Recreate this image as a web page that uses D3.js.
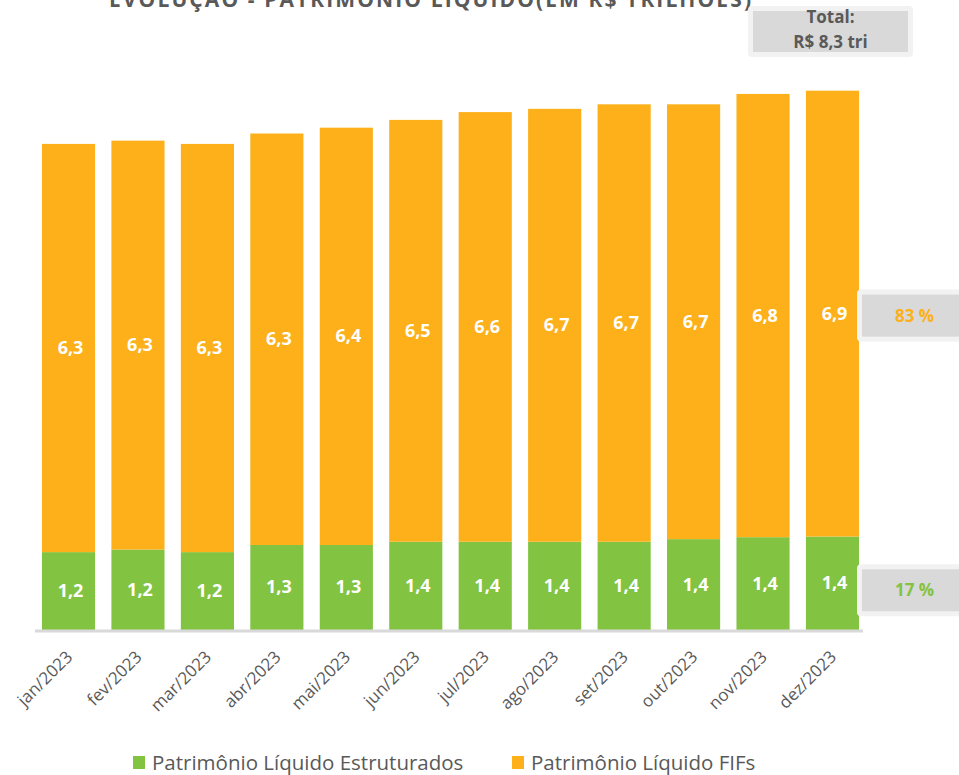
<!DOCTYPE html>
<html>
<head>
<meta charset="utf-8">
<script src="https://cdn.jsdelivr.net/npm/d3@7"></script>
<style>
  body { margin: 0; background: #fff; }
  svg { display: block; font-family: "Open Sans", "Liberation Sans", sans-serif; }
</style>
</head>
<body>
<svg id="chart" width="959" height="775"></svg>
<script>
// data
var meses = ["jan/2023", "fev/2023", "mar/2023", "abr/2023", "mai/2023", "jun/2023",
             "jul/2023", "ago/2023", "set/2023", "out/2023", "nov/2023", "dez/2023"];
var estruturados = [1.20, 1.24, 1.20, 1.31, 1.31, 1.36, 1.36, 1.36, 1.36, 1.40, 1.43, 1.44];
var fifs = [6.29, 6.30, 6.29, 6.34, 6.43, 6.50, 6.62, 6.67, 6.74, 6.70, 6.83, 6.87];
var series = ["Patrimônio Líquido Estruturados", "Patrimônio Líquido FIFs"];
var titulo = "EVOLUÇÃO - PATRIMÔNIO LÍQUIDO(EM R$ TRILHÕES)";

var svg = d3.select("#chart"),
    verde = "#82c341",
    laranja = "#fdb019",
    cinza = "#595959";

var rows = meses.map(function(m, i) { return { mes: m, est: estruturados[i], fif: fifs[i] }; });
var stack = d3.stack().keys(["est", "fif"])(rows);

var x = d3.scaleBand().domain(meses).range([35, 866]).paddingInner(0.235).paddingOuter(0.1);
var y = d3.scaleLinear().domain([0, 8.5]).range([630, 630 - 8.5 * 64.9]);
var color = d3.scaleOrdinal().domain(["est", "fif"]).range([verde, laranja]);
var fmt = function(v) { return d3.format(".1f")(v).replace(".", ","); };

// title (clipped at top like the original)
svg.append("text")
    .attr("x", 430).attr("y", 7)
    .attr("text-anchor", "middle")
    .attr("font-size", 21).attr("font-weight", "bold")
    .attr("fill", cinza)
    .attr("textLength", 642)
    .text(titulo);

// bars
var layer = svg.selectAll("g.layer")
  .data(stack)
  .enter().append("g")
    .attr("class", "layer")
    .attr("fill", function(d) { return color(d.key); });

layer.selectAll("rect")
  .data(function(d) { return d; })
  .enter().append("rect")
    .attr("x", function(d) { return x(d.data.mes); })
    .attr("y", function(d) { return y(d[1]); })
    .attr("width", x.bandwidth())
    .attr("height", function(d) { return y(d[0]) - y(d[1]); });

layer.selectAll("text")
  .data(function(d) { return d; })
  .enter().append("text")
    .attr("x", function(d) { return x(d.data.mes) + x.bandwidth() / 2 + 2; })
    .attr("y", function(d) { return (y(d[0]) + y(d[1])) / 2 + 6; })
    .attr("text-anchor", "middle")
    .attr("font-size", 18).attr("font-weight", "bold")
    .attr("fill", "#fff")
    .text(function(d) { return fmt(d[1] - d[0]); });

// baseline
svg.append("line")
    .attr("x1", 35).attr("x2", 863)
    .attr("y1", 631).attr("y2", 631)
    .attr("stroke", "#d9d9d9").attr("stroke-width", 3);

// x axis labels
var xAxis = svg.append("g")
    .attr("transform", "translate(0,631)")
    .call(d3.axisBottom(x).tickSize(0).tickPadding(0));
xAxis.select(".domain").remove();
xAxis.selectAll("text")
    .attr("font-family", "Open Sans, sans-serif")
    .attr("font-size", 17)
    .attr("fill", cinza)
    .attr("text-anchor", "end")
    .attr("dy", null)
    .attr("y", 0)
    .attr("transform", "translate(5,27) rotate(-45)");

// totals on the right
var ult = rows.length - 1,
    total = estruturados[ult] + fifs[ult],
    pctFif = Math.round(fifs[ult] / total * 100),
    pctEst = Math.round(estruturados[ult] / total * 100);

function caixa(x0, y0, w, h, linhas, cor, dyList) {
  svg.append("rect").attr("x", x0 - 5).attr("y", y0 - 5).attr("width", w + 10).attr("height", h + 10)
      .attr("rx", 4).attr("fill", "#f2f2f2");
  svg.append("rect").attr("x", x0).attr("y", y0).attr("width", w).attr("height", h).attr("fill", "#d9d9d9");
  linhas.forEach(function(t, i) {
    svg.append("text")
        .attr("x", x0 + w / 2).attr("y", y0 + dyList[i])
        .attr("text-anchor", "middle")
        .attr("font-size", 17).attr("font-weight", "bold")
        .attr("fill", cor)
        .text(t);
  });
}

caixa(753, 11, 155, 41, ["Total:", "R$ " + fmt(total) + " tri"], cinza, [12, 37]);

var yFif = (y(stack[1][ult][0]) + y(stack[1][ult][1])) / 2 + 2,
    yEst = (y(stack[0][ult][0]) + y(stack[0][ult][1])) / 2 + 7;
caixa(862, yFif - 21, 105, 42, [pctFif + " %"], laranja, [27]);
caixa(862, yEst - 21, 105, 42, [pctEst + " %"], verde, [27]);

// legend
var legenda = svg.append("g").attr("transform", "translate(0,762)");
var itens = legenda.selectAll("g")
  .data(series)
  .enter().append("g")
    .attr("transform", function(d, i) { return "translate(" + [133, 512][i] + ",0)"; });
itens.append("rect")
    .attr("x", 0).attr("y", -6).attr("width", 12).attr("height", 13)
    .attr("fill", function(d, i) { return [verde, laranja][i]; });
itens.append("text")
    .attr("x", 19).attr("y", 8)
    .attr("font-size", 20.5)
    .attr("fill", cinza)
    .text(function(d) { return d; });
</script>
</body>
</html>
